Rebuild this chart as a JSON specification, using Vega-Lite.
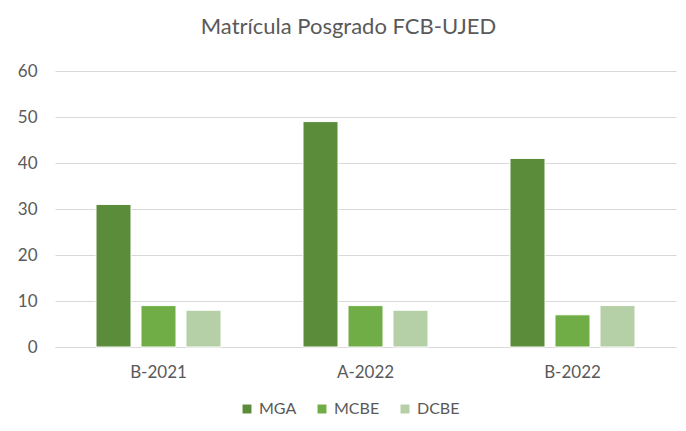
{
  "$schema": "https://vega.github.io/schema/vega-lite/v6.json",
  "autosize": {"type": "none"},
  "width": 621,
  "height": 276,
  "padding": {"left": 55, "top": 71, "right": 10, "bottom": 84},
  "background": "white",
  "title": {
    "text": "Matrícula Posgrado FCB-UJED",
    "anchor": "middle",
    "dx": -17,
    "offset": 23,
    "font": "Lato",
    "fontSize": 22,
    "fontWeight": "normal",
    "color": "#595959"
  },
  "data": {
    "values": [
      {"periodo": "B-2021", "programa": "MGA", "matricula": 31},
      {"periodo": "B-2021", "programa": "MCBE", "matricula": 9},
      {"periodo": "B-2021", "programa": "DCBE", "matricula": 8},
      {"periodo": "A-2022", "programa": "MGA", "matricula": 49},
      {"periodo": "A-2022", "programa": "MCBE", "matricula": 9},
      {"periodo": "A-2022", "programa": "DCBE", "matricula": 8},
      {"periodo": "B-2022", "programa": "MGA", "matricula": 41},
      {"periodo": "B-2022", "programa": "MCBE", "matricula": 7},
      {"periodo": "B-2022", "programa": "DCBE", "matricula": 9}
    ]
  },
  "mark": {"type": "bar", "stroke": "white", "strokeWidth": 1},
  "encoding": {
    "x": {
      "field": "periodo",
      "type": "nominal",
      "sort": ["B-2021", "A-2022", "B-2022"],
      "scale": {"paddingInner": 0.348, "paddingOuter": 0.174},
      "axis": {
        "title": null,
        "labelAngle": 0,
        "labelFont": "Lato",
        "labelFontSize": 17,
        "labelColor": "#595959",
        "labelPadding": 17,
        "ticks": false,
        "domain": true,
        "domainColor": "#d9d9d9",
        "grid": false
      }
    },
    "xOffset": {
      "field": "programa",
      "type": "nominal",
      "sort": ["MGA", "MCBE", "DCBE"],
      "scale": {"paddingInner": 0.222, "paddingOuter": 0.111}
    },
    "y": {
      "field": "matricula",
      "type": "quantitative",
      "scale": {"domain": [0, 60], "nice": false},
      "axis": {
        "title": null,
        "values": [0, 10, 20, 30, 40, 50, 60],
        "labelFont": "Lato",
        "labelFontSize": 17,
        "labelColor": "#595959",
        "labelPadding": 18,
        "ticks": false,
        "domain": false,
        "grid": true,
        "gridColor": "#d9d9d9",
        "gridWidth": 1
      }
    },
    "color": {
      "field": "programa",
      "type": "nominal",
      "sort": ["MGA", "MCBE", "DCBE"],
      "scale": {"domain": ["MGA", "MCBE", "DCBE"], "range": ["#5b8c3a", "#70ad47", "#b5cfa6"]},
      "legend": {
        "title": null,
        "orient": "none",
        "legendX": 184,
        "legendY": 330,
        "direction": "horizontal",
        "symbolType": "square",
        "symbolSize": 80,
        "symbolStrokeWidth": 0,
        "labelFont": "Lato",
        "labelFontSize": 16,
        "labelColor": "#595959",
        "columnPadding": 17,
        "labelOffset": 4
      }
    }
  },
  "config": {"view": {"stroke": null}}
}
